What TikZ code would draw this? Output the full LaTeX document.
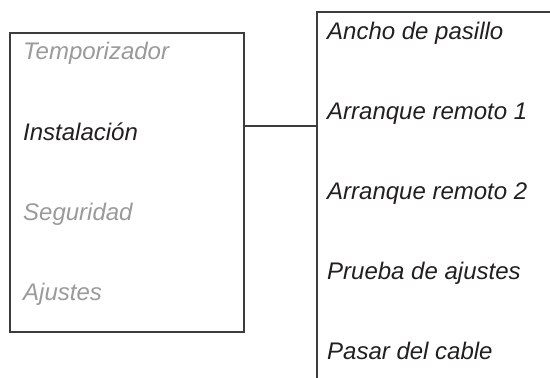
\documentclass[tikz,border=0pt]{standalone}
\usepackage{fontspec}
\setmainfont{Liberation Sans}
\definecolor{dim}{HTML}{9A9A9A}
\definecolor{ink}{HTML}{231F20}
\definecolor{frame}{HTML}{3C3C3C}
\begin{document}
\begin{tikzpicture}[x=1pt,y=-1pt,
  menu/.style={anchor=base west,inner sep=0pt,font=\fontsize{24}{28}\selectfont\itshape},
  off/.style={menu,text=dim},
  on/.style={menu,text=ink},
  panel/.style={draw=frame,line width=1.1pt}]
\useasboundingbox (0,0) rectangle (550,378);
\draw[panel] (10,33) rectangle (244,332);
\coordinate (lbr) at (244,126);
\draw[panel] (560,12) -- (317,12) -- (317,380);
\coordinate (rbl) at (317,126);
\draw[panel] (lbr) -- (rbl);
\node[off] (t1) at (23,59) {Temporizador};
\node[on]  (t2) at (23,140) {Instalación};
\node[off] (t3) at (23,220) {Seguridad};
\node[off] (t4) at (23,300) {Ajustes};
\node[on] (r1) at (327,39) {Ancho de pasillo};
\node[on] (r2) at (327,119) {Arranque remoto 1};
\node[on] (r3) at (327,199) {Arranque remoto 2};
\node[on] (r4) at (327,279) {Prueba de ajustes};
\node[on] (r5) at (327,359) {Pasar del cable};
\end{tikzpicture}
\end{document}
